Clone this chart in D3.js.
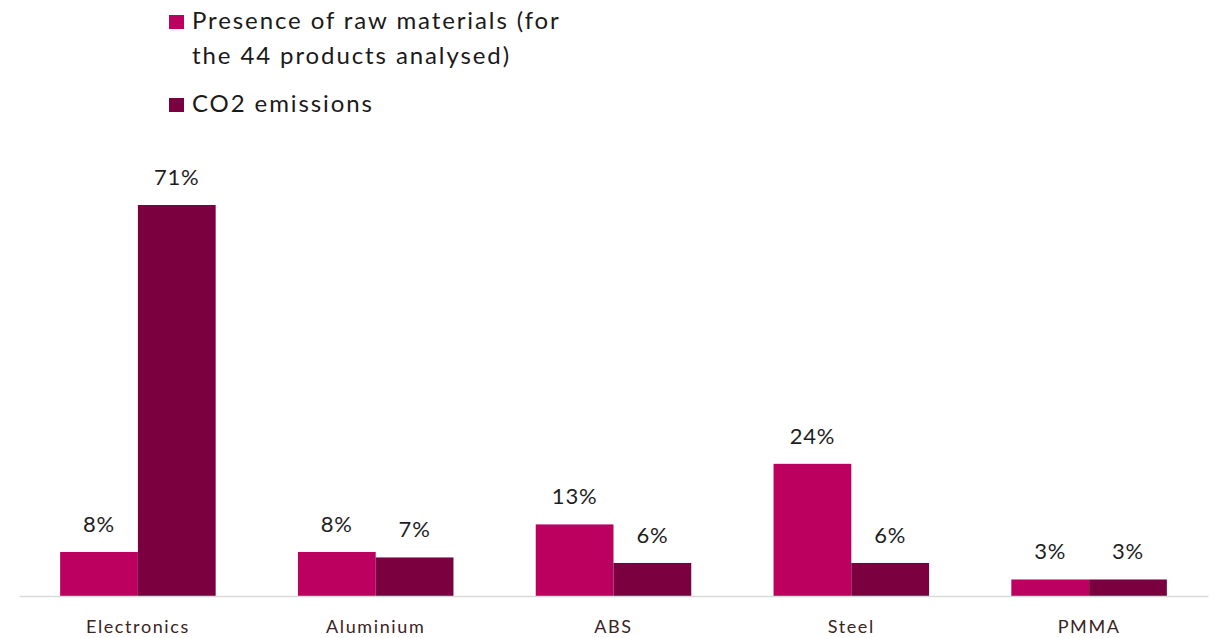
<!DOCTYPE html>
<html>
<head>
<meta charset="utf-8">
<script src="https://cdn.jsdelivr.net/npm/d3@7"></script>
<style>
  html, body { margin: 0; padding: 0; background: #fff; }
  svg { display: block; font-family: Lato, "Open Sans", sans-serif; }
</style>
</head>
<body>
<svg id="chart" width="1215" height="638"></svg>
<script>
// Material categories and the two series (percent)
const categories = ["Electronics", "Aluminium", "ABS", "Steel", "PMMA"];
const presenceValues = [8, 8, 13, 24, 3];
const co2Values = [71, 7, 6, 6, 3];
const seriesNames = ["Presence of raw materials (for the 44 products analysed)", "CO2 emissions"];
const legendLines = [["Presence of raw materials (for", "the 44 products analysed)"], ["CO2 emissions"]];
const seriesKeys = ["presence", "co2"];
const colors = ["#bc0060", "#7a003f"];

const rows = categories.map((c, i) => ({ category: c, presence: presenceValues[i], co2: co2Values[i] }));

const svg = d3.select("#chart");
const margin = { left: 19, right: 7, baseline: 596, top: 205 };

const x0 = d3.scaleBand()
  .domain(categories)
  .range([margin.left, 1215 - margin.right])
  .paddingInner(0.346)
  .paddingOuter(0.173);

const x1 = d3.scaleBand()
  .domain(seriesKeys)
  .range([0, x0.bandwidth()]);

const y = d3.scaleLinear()
  .domain([0, 71])
  .range([margin.baseline, margin.top]);

const color = d3.scaleOrdinal().domain(seriesKeys).range(colors);

// Bars
const groups = svg.append("g")
  .selectAll("g")
  .data(rows)
  .join("g")
  .attr("transform", d => `translate(${x0(d.category)},0)`);

groups.selectAll("rect")
  .data(d => seriesKeys.map(k => ({ key: k, value: d[k] })))
  .join("rect")
  .attr("x", d => x1(d.key))
  .attr("width", x1.bandwidth())
  .attr("y", d => y(d.value))
  .attr("height", d => y(0) - y(d.value))
  .attr("fill", d => color(d.key));

// Value labels above bars
groups.selectAll("text")
  .data(d => seriesKeys.map(k => ({ key: k, value: d[k] })))
  .join("text")
  .attr("x", d => x1(d.key) + x1.bandwidth() / 2)
  .attr("y", d => y(d.value) - 20)
  .attr("text-anchor", "middle")
  .attr("font-size", 22)
  .attr("letter-spacing", 0.8)
  .attr("fill", "#1e1e1e")
  .text(d => d3.format("d")(d.value) + "%");

// Category axis
const xAxis = svg.append("g")
  .attr("transform", `translate(0,${margin.baseline})`)
  .call(d3.axisBottom(x0).tickSize(0).tickPadding(24));
xAxis.select(".domain").attr("stroke", "#d9d9d9").attr("stroke-width", 1.5);
xAxis.selectAll("text")
  .attr("font-family", "Lato, 'Open Sans', sans-serif")
  .attr("font-size", 18)
  .attr("letter-spacing", 1.6)
  .attr("fill", "#3a2424");

// Legend
const legend = svg.append("g").attr("transform", "translate(169,0)");
const legendY = [15, 98];
const legendItems = legend.selectAll("g")
  .data(seriesKeys)
  .join("g")
  .attr("transform", (d, i) => `translate(0,${legendY[i]})`);

legendItems.append("rect")
  .attr("width", 15)
  .attr("height", 14)
  .attr("fill", d => color(d));

legendItems.append("text")
  .attr("x", 23)
  .attr("y", 13.5)
  .attr("font-size", 24)
  .attr("letter-spacing", 1.9)
  .attr("fill", "#1a1a1a")
  .selectAll("tspan")
  .data((d, i) => legendLines[i])
  .join("tspan")
  .attr("x", 23)
  .attr("dy", (d, j) => j === 0 ? 0 : 35)
  .text(d => d);
</script>
</body>
</html>
